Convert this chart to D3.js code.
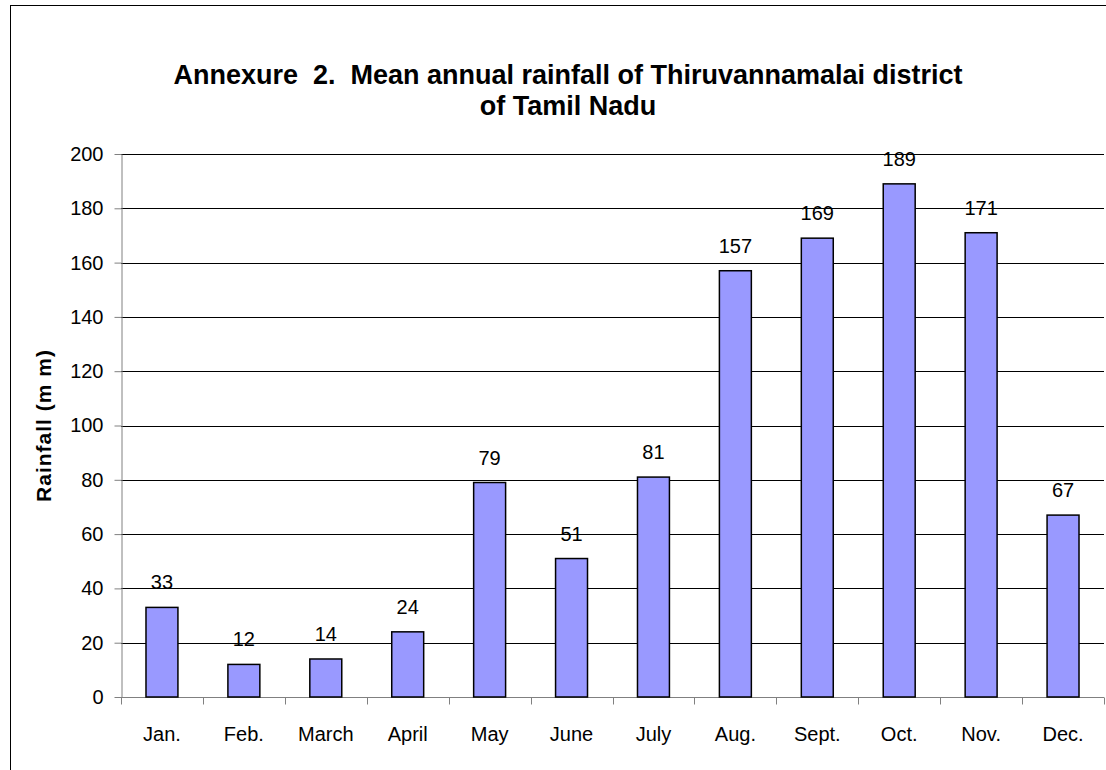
<!DOCTYPE html>
<html><head><meta charset="utf-8">
<script src="https://cdn.jsdelivr.net/npm/d3@7"></script>
<style>body{margin:0;background:#fff;font-family:"Liberation Sans",Arial,sans-serif} text{white-space:pre}</style>
</head><body><svg id="c" width="1106" height="770"></svg>
<script>
const months = ["Jan.","Feb.","March","April","May","June","July","Aug.","Sept.","Oct.","Nov.","Dec."];
const rainfall = [33,12,14,24,79,51,81,157,169,189,171,67];
const yTicks = [0,20,40,60,80,100,120,140,160,180,200];
const titleLines = ["Annexure  2.  Mean annual rainfall of Thiruvannamalai district","of Tamil Nadu"];
const yLabel = "Rainfall (m m)";

const FONT = "Liberation Sans, Arial, sans-serif";
const svg = d3.select("#c");
const L=121, R=1104, T=154, B=697;
svg.append("rect").attr("x",10.5).attr("y",5.5).attr("width",1200).attr("height",800).attr("fill","#fff").attr("stroke","#000").attr("stroke-width",1);

const x = d3.scaleBand().domain(months).range([L,R]).paddingInner(0.61).paddingOuter(0.305);
const xc = d3.scaleBand().domain(months).range([L,R]);
const y = d3.scaleLinear().domain([0,200]).range([B,T]);

// gridlines
svg.append("g").selectAll("line").data(yTicks.filter(d=>d>0)).join("line")
  .attr("x1",L).attr("x2",R).attr("y1",d=>Math.round(y(d))+0.5).attr("y2",d=>Math.round(y(d))+0.5)
  .attr("stroke","#000").attr("stroke-width",1);

// y axis
const ya = svg.append("g").attr("transform",`translate(${L+0.5},0)`)
  .call(d3.axisLeft(y).tickValues(yTicks).tickSize(7).tickPadding(11).tickSizeOuter(0));
ya.select(".domain").attr("stroke","#808080");
ya.selectAll(".tick line").attr("stroke","#808080");
ya.selectAll("text").attr("font-size",20).attr("font-family",FONT).attr("fill","#000");

// x axis
const xa = svg.append("g").attr("transform",`translate(0,${B+0.5})`);
xa.append("line").attr("x1",L).attr("x2",R).attr("stroke","#808080");
xa.selectAll("line.t").data(d3.range(months.length+1)).join("line").attr("class","t")
  .attr("x1",i=>Math.round(L+i*xc.step())+0.5).attr("x2",i=>Math.round(L+i*xc.step())+0.5)
  .attr("y1",0).attr("y2",7).attr("stroke","#808080");
xa.selectAll("text").data(months).join("text")
  .attr("x",d=>xc(d)+xc.bandwidth()/2).attr("y",43)
  .attr("text-anchor","middle").attr("font-size",20).attr("font-family",FONT).text(d=>d);

// bars
svg.append("g").selectAll("rect").data(months).join("rect")
  .attr("x",d=>x(d)).attr("width",x.bandwidth())
  .attr("y",(d,i)=>y(rainfall[i])).attr("height",(d,i)=>B-y(rainfall[i]))
  .attr("fill","#9999FF").attr("stroke","#000").attr("stroke-width",1.5);

// value labels
svg.append("g").selectAll("text").data(months).join("text")
  .attr("x",d=>xc(d)+xc.bandwidth()/2).attr("y",(d,i)=>y(rainfall[i])-18)
  .attr("text-anchor","middle").attr("font-size",20).attr("font-family",FONT).text((d,i)=>rainfall[i]);

// title
svg.append("g").selectAll("text").data(titleLines).join("text")
  .attr("x",568).attr("y",(d,i)=>84+i*31).attr("text-anchor","middle")
  .attr("font-size",27).attr("font-weight","bold").attr("font-family",FONT).text(d=>d);

// y label
svg.append("text").attr("transform",`translate(51,${(T+B)/2}) rotate(-90)`)
  .attr("text-anchor","middle").attr("font-size",21).attr("font-weight","bold")
  .attr("letter-spacing",1).attr("font-family",FONT).text(yLabel);
</script></body></html>
